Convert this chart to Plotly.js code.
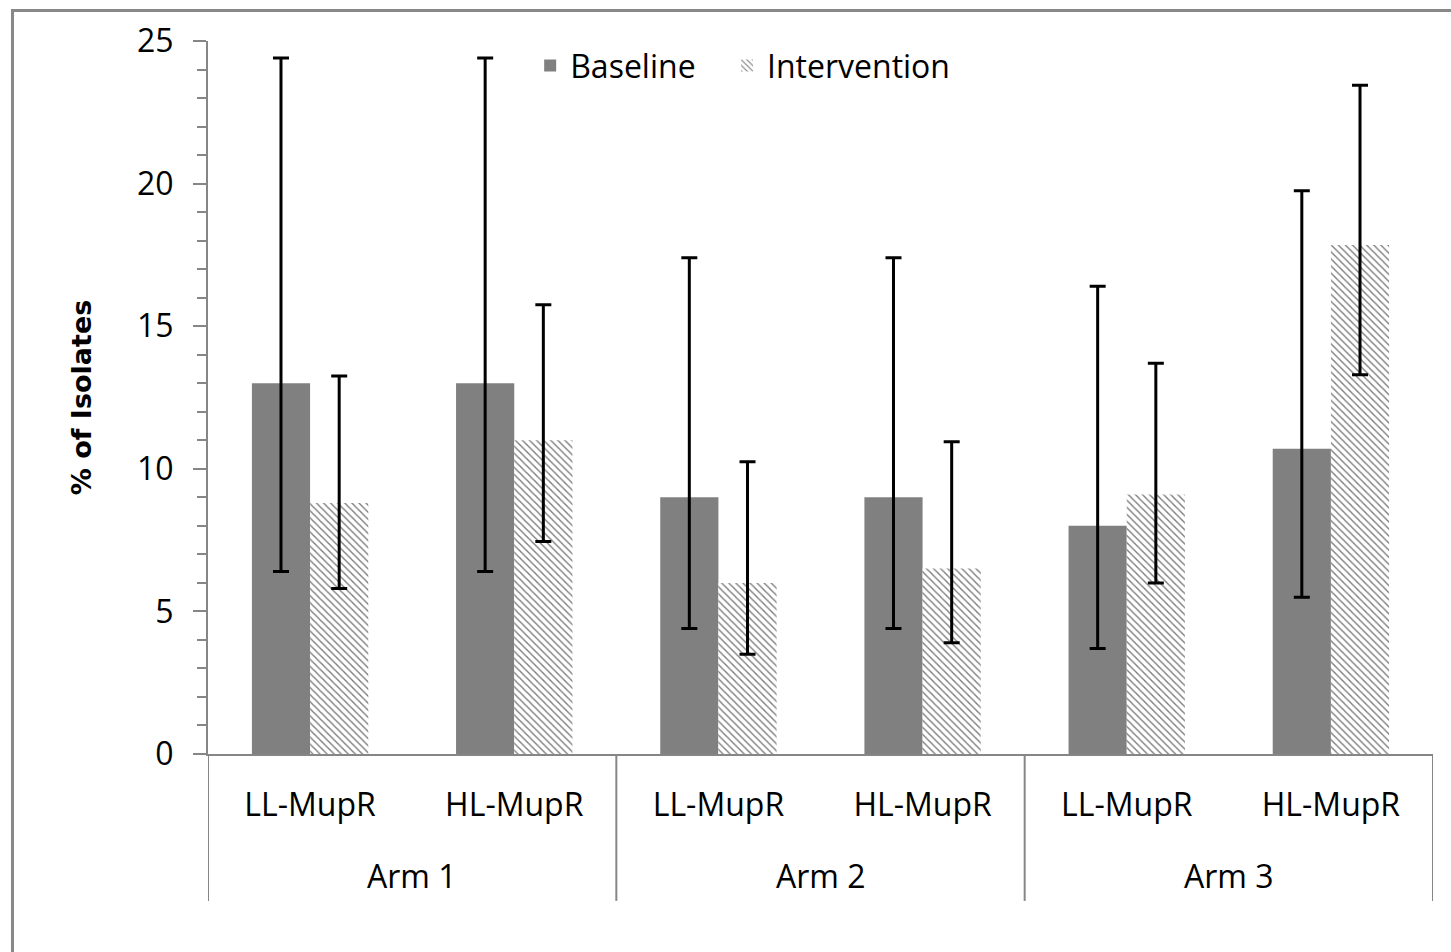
<!DOCTYPE html>
<html>
<head>
<meta charset="utf-8">
<script src="https://cdn.plot.ly/plotly-3.0.1.min.js"></script>
<style>html,body{margin:0;padding:0;background:#fff;}#chart{width:1451px;height:952px;}</style>
</head>
<body>
<div id="chart"></div>
<script>
// Data
var subCategories = ["LL-MupR", "HL-MupR", "LL-MupR", "HL-MupR", "LL-MupR", "HL-MupR"];
var arms = ["Arm 1", "Arm 2", "Arm 3"];
var baseline = [13.0, 13.0, 9.0, 9.0, 8.0, 10.7];
var baselineUpper = [24.4, 24.4, 17.4, 17.4, 16.4, 19.75];
var baselineLower = [6.4, 6.4, 4.4, 4.4, 3.7, 5.5];
var intervention = [8.8, 11.0, 6.0, 6.5, 9.1, 17.85];
var interventionUpper = [13.25, 15.75, 10.25, 10.95, 13.7, 23.45];
var interventionLower = [5.8, 7.45, 3.5, 3.9, 6.0, 13.3];

var positions = subCategories.map(function (_, i) { return i; });
function plus(vals, up) { return up.map(function (u, i) { return u - vals[i]; }); }
function minus(vals, lo) { return lo.map(function (l, i) { return vals[i] - l; }); }

var FONT = "Open Sans, Liberation Sans, sans-serif";
var GRAY = "#868686";

var traces = [
  {
    type: "bar", name: "Baseline", x: positions, y: baseline, legend: "legend",
    marker: { color: "#808080", line: { width: 0 } },
    error_y: { type: "data", symmetric: false, array: plus(baseline, baselineUpper),
      arrayminus: minus(baseline, baselineLower), color: "#000", thickness: 3, width: 8 }
  },
  {
    type: "bar", name: "Intervention", x: positions, y: intervention, legend: "legend2",
    marker: { color: "#ffffff", line: { width: 0 },
      pattern: { shape: "\\", fgcolor: "#7c7c7c", bgcolor: "#ffffff", size: 5, solidity: 0.28 } },
    error_y: { type: "data", symmetric: false, array: plus(intervention, interventionUpper),
      arrayminus: minus(intervention, interventionLower), color: "#000", thickness: 3, width: 8 }
  }
];

var shapes = [];
// group dividers below the axis
[-0.5, 1.5, 3.5, 5.5].forEach(function (xv) {
  shapes.push({ type: "line", xref: "x", yref: "paper", x0: xv, x1: xv, y0: 0, y1: -0.206,
    line: { color: GRAY, width: 2 } });
});
// outer chart border
shapes.push({ type: "rect", xref: "paper", yref: "paper", x0: -0.1596, x1: 2, y0: -2, y1: 1.0428,
  line: { color: "#888888", width: 3 }, fillcolor: "rgba(0,0,0,0)", layer: "below" });

var annotations = arms.map(function (a, i) {
  return { text: a, xref: "x", yref: "paper", x: 2 * i + 0.5, y: -0.171, showarrow: false,
    xanchor: "center", yanchor: "middle", font: { family: FONT, size: 32, color: "#000" } };
});

var legendBase = { orientation: "h", xanchor: "left", y: 1.004, yanchor: "top",
  font: { family: FONT, size: 32, color: "#000" }, bgcolor: "rgba(0,0,0,0)" };

var layout = {
  width: 1451, height: 952,
  margin: { l: 208, r: 18, t: 41, b: 198 },
  paper_bgcolor: "#fff", plot_bgcolor: "#fff",
  barmode: "group", bargap: 0.43, bargroupgap: 0,
  font: { family: FONT, size: 32, color: "#000" },
  showlegend: true,
  legend: Object.assign({}, legendBase, { x: 0.263 }),
  legend2: Object.assign({}, legendBase, { x: 0.4237 }),
  xaxis: {
    range: [-0.5, 5.5], tickmode: "array", tickvals: positions, ticktext: subCategories,
    ticks: "", showline: true, linecolor: GRAY, linewidth: 2, showgrid: false, zeroline: false,
    ticklabelstandoff: 22, tickfont: { family: FONT, size: 32, color: "#000" }, fixedrange: true
  },
  yaxis: {
    range: [0, 25], tickmode: "linear", tick0: 0, dtick: 5, ticks: "outside", ticklen: 13,
    tickwidth: 2, tickcolor: GRAY, showline: true, linecolor: GRAY, linewidth: 2,
    showgrid: false, zeroline: false, ticklabelstandoff: 13,
    minor: { dtick: 1, ticks: "outside", ticklen: 9, tickwidth: 2, tickcolor: GRAY, showgrid: false },
    tickfont: { family: FONT, size: 32, color: "#000" },
    title: { text: "% of Isolates", standoff: 38, font: { family: "DejaVu Sans, sans-serif", size: 27, color: "#000", weight: "bold" } },
    fixedrange: true
  },
  shapes: shapes,
  annotations: annotations
};

Plotly.newPlot("chart", traces, layout, { displayModeBar: false, staticPlot: true });
</script>
</body>
</html>
